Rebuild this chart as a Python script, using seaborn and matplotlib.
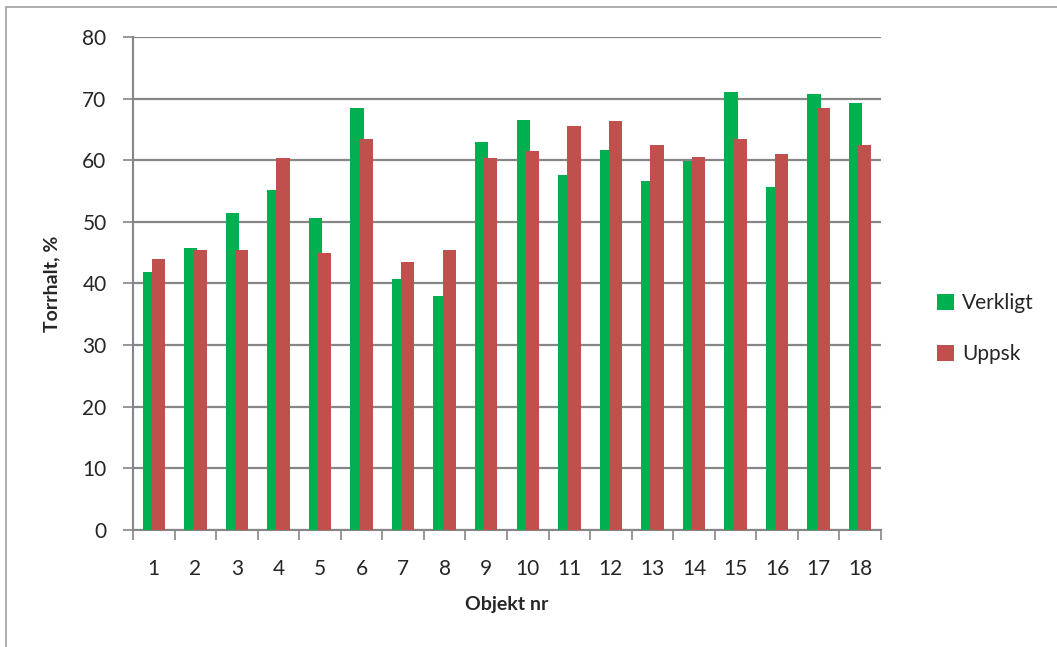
import pandas as pd
import numpy as np
import matplotlib.pyplot as plt
from matplotlib.patches import Rectangle
import seaborn as sns

objekt = [str(i) for i in range(1, 19)]
verkligt = [41.9, 45.8, 51.5, 55.2, 50.6, 68.5, 40.8, 37.9, 63.0,
            66.6, 57.6, 61.6, 56.7, 59.9, 71.0, 55.7, 70.8, 69.3]
uppsk = [43.9, 45.4, 45.4, 60.4, 45.0, 63.4, 43.5, 45.4, 60.4,
         61.5, 65.5, 66.4, 62.4, 60.5, 63.5, 61.0, 68.4, 62.4]

df = pd.DataFrame({'Objekt': objekt * 2,
                   'Torrhalt': verkligt + uppsk,
                   'Serie': ['Verkligt'] * 18 + ['Uppsk'] * 18})

sns.set_style('white')
plt.rcParams['font.family'] = ['Lato', 'DejaVu Sans']

fig = plt.figure(figsize=(10.57, 6.47), dpi=100)
ax = fig.add_axes([133 / 1057, 1 - 530 / 647, (881 - 133) / 1057, (530 - 37) / 647])

# outer chart frame
fig.patches.append(Rectangle((6 / 1057, -0.1), 1.2, 1 - 7 / 647 + 0.1, transform=fig.transFigure,
                             fill=False, edgecolor='#a0a0a0', linewidth=1.2))

sns.barplot(data=df, x='Objekt', y='Torrhalt', hue='Serie', order=objekt,
            hue_order=['Verkligt', 'Uppsk'], palette=['#00B050', '#C0504D'],
            width=0.44, gap=-0.45, saturation=1, errorbar=None, linewidth=0,
            ax=ax, zorder=3)

ax.set_ylim(0, 80)
ax.set_xlim(-0.5, 17.5)
ax.set_yticks(range(0, 81, 10))
ax.yaxis.grid(True, color='#868686', linewidth=1.6, zorder=0)
ax.set_axisbelow(True)
for s in ['top', 'right']:
    ax.spines[s].set_visible(False)
for s in ['left', 'bottom']:
    ax.spines[s].set_color('#868686')
    ax.spines[s].set_linewidth(1.5)

ax.tick_params(axis='y', which='major', length=7, width=1.2, color='#868686',
               pad=12, labelsize=15, left=True)
ax.tick_params(axis='x', which='major', length=0, pad=21, labelsize=15)
ax.set_xticks(np.arange(-0.5, 18, 1), minor=True)
ax.tick_params(axis='x', which='minor', length=7, width=1.2, color='#868686', bottom=True)

ax.set_xlabel('Objekt nr', fontsize=14, fontweight='bold', labelpad=12)
ax.set_ylabel('Torrhalt, %', fontsize=14, fontweight='bold', labelpad=16)

ax.legend(loc='center left', bbox_to_anchor=(1.05, 0.408), frameon=False, fontsize=15,
          handlelength=0.8, handleheight=0.8, handletextpad=0.4, labelspacing=1.5)

fig.savefig('out.png', dpi=100)
